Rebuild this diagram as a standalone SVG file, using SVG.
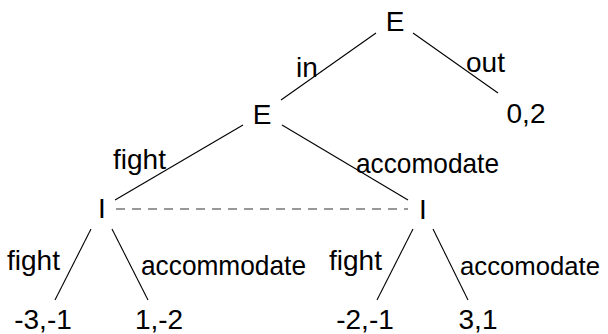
<svg xmlns="http://www.w3.org/2000/svg" width="608" height="334" viewBox="0 0 608 334">
  <style>
    text { font-family: "Liberation Sans", Arial, sans-serif; font-size: 28px; fill: #000; }
    .node { text-anchor: middle; }
    .edge { stroke: #000; stroke-width: 1.1; fill: none; }
    .info { stroke: #777; stroke-width: 1.4; stroke-dasharray: 9 7; fill: none; }
    .tight { font-size: 26px; }
  </style>
  <rect width="608" height="334" fill="#fff"/>

  <!-- game tree edges and information set -->
  <g id="connectors">
    <line class="edge" x1="376" y1="33" x2="281" y2="100"/>
    <line class="edge" x1="413" y1="33" x2="498" y2="93"/>
    <line class="edge" x1="243" y1="125" x2="115" y2="200"/>
    <line class="edge" x1="282" y1="125" x2="408" y2="200"/>
    <line class="info" x1="116" y1="209" x2="408" y2="209"/>
    <line class="edge" x1="91" y1="229" x2="55" y2="300"/>
    <line class="edge" x1="112" y1="229" x2="148" y2="300"/>
    <line class="edge" x1="413" y1="229" x2="377" y2="300"/>
    <line class="edge" x1="433" y1="229" x2="468" y2="300"/>
  </g>

  <!-- edge labels -->
  <g id="labels">
    <text x="296" y="77">in</text>
    <text x="466" y="72">out</text>
    <text x="113" y="169">fight</text>
    <text x="356" y="173" textLength="143" lengthAdjust="spacingAndGlyphs">accomodate</text>
    <text x="7" y="270">fight</text>
    <text x="141" y="275" textLength="165" lengthAdjust="spacingAndGlyphs">accommodate</text>
    <text x="329" y="270">fight</text>
    <text class="tight" x="460" y="275" textLength="140" lengthAdjust="spacingAndGlyphs">accomodate</text>
  </g>

  <!-- decision nodes -->
  <g id="node-root"><text class="node" x="395" y="31">E</text></g>
  <g id="node-entrant"><text class="node" x="262" y="124">E</text></g>
  <g id="node-incumbent-fight"><text class="node" x="102" y="218">I</text></g>
  <g id="node-incumbent-accomodate"><text class="node" x="423" y="219">I</text></g>

  <!-- payoffs -->
  <g id="leaf-out"><text class="node" x="526" y="123">0,2</text></g>
  <g id="leaf-ff"><text class="node" x="43" y="329">-3,-1</text></g>
  <g id="leaf-fa"><text class="node" x="159" y="329">1,-2</text></g>
  <g id="leaf-af"><text class="node" x="365" y="329">-2,-1</text></g>
  <g id="leaf-aa"><text class="node" x="478" y="329">3,1</text></g>
</svg>
